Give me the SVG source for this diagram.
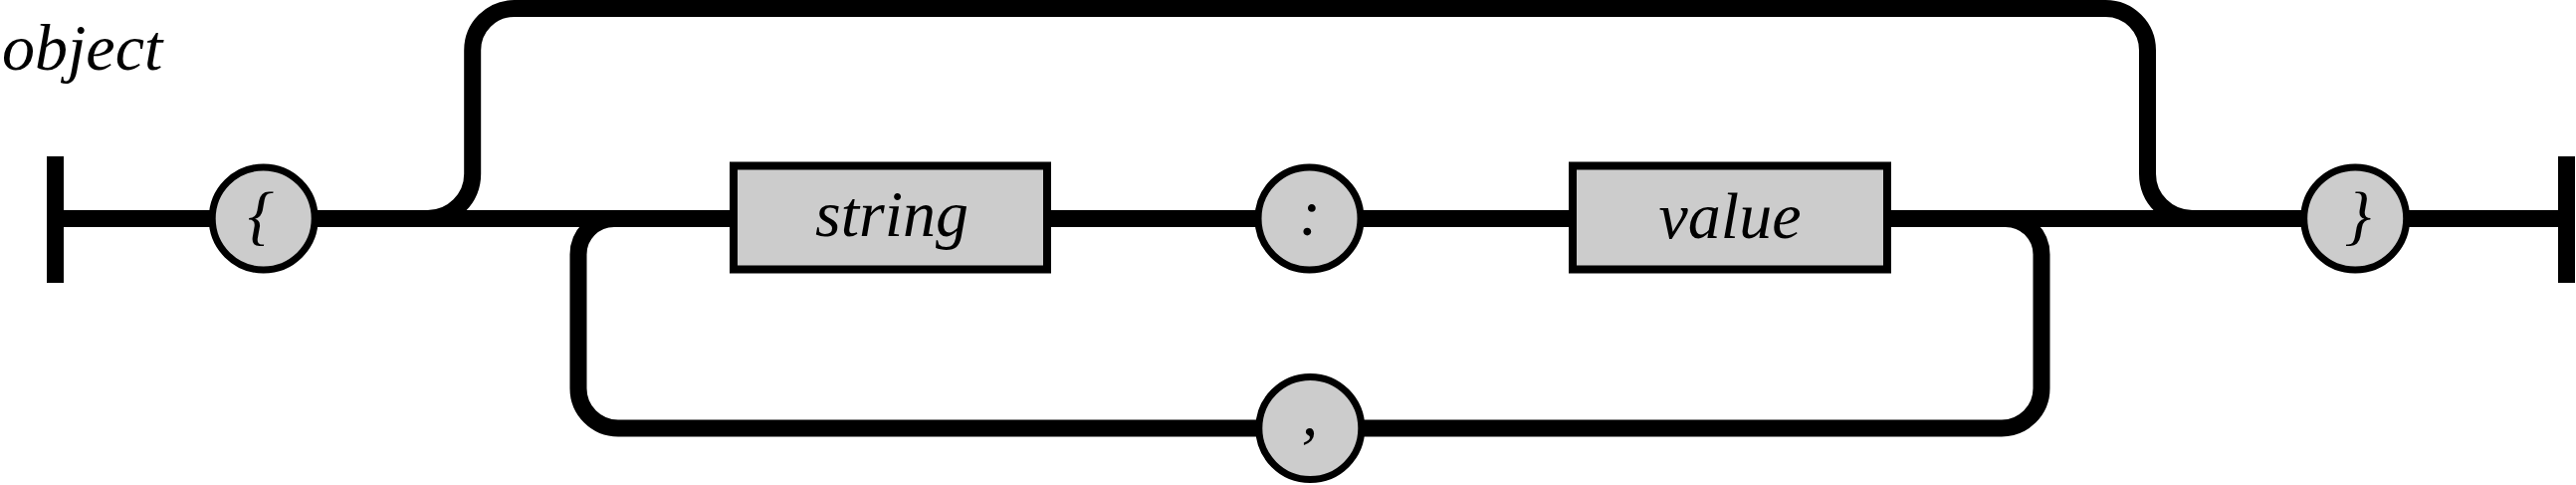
<svg xmlns="http://www.w3.org/2000/svg" width="2588" height="487" viewBox="0 0 2588 487">
<style>
.rail{fill:none;stroke:#000;stroke-width:17;stroke-linecap:butt;stroke-linejoin:miter}
.term{fill:#cccccc;stroke:#000;stroke-width:7}
.nonterm{fill:#cccccc;stroke:#000;stroke-width:8}
.lbl{font-family:"Liberation Serif","Times New Roman",serif;font-style:italic;font-size:66px;fill:#000}
</style>
<rect width="2588" height="487" fill="#fff"/>
<text class="lbl" x="2" y="70">object</text>
<g id="connectors">
<path class="rail" d="M47 219.5 H2587"/>
<path class="rail" d="M55.5 157 V284"/>
<path class="rail" d="M2578.5 157 V284"/>
<path class="rail" d="M429.7 219.5 A45 45 0 0 0 474.7 174.5 V50.5 A42 42 0 0 1 516.7 8.5 H2115.5 A42 42 0 0 1 2157.5 50.5 V174.5 A45 45 0 0 0 2202.5 219.5"/>
<path class="rail" d="M2015 219.5 A36 36 0 0 1 2051 255.5 V390 A40 40 0 0 1 2011 430 H621 A40 40 0 0 1 581 390 V255.5 A36 36 0 0 1 617 219.5"/>
</g>
<g id="node-open-brace">
<circle class="term" cx="264.7" cy="219.5" r="51.5"/>
<text class="lbl" x="262" y="238" text-anchor="middle">{</text>
</g>
<g id="node-string">
<rect class="nonterm" x="737" y="166.5" width="315" height="104"/>
<text class="lbl" x="896" y="237" text-anchor="middle">string</text>
</g>
<g id="node-colon">
<circle class="term" cx="1315.5" cy="219.5" r="51.5"/>
<text class="lbl" x="1316" y="235.5" text-anchor="middle">:</text>
</g>
<g id="node-value">
<rect class="nonterm" x="1580" y="166.5" width="316" height="104"/>
<text class="lbl" x="1738" y="239" text-anchor="middle">value</text>
</g>
<g id="node-comma">
<circle class="term" cx="1316.3" cy="430" r="51.5"/>
<text class="lbl" x="1316" y="437" text-anchor="middle">,</text>
</g>
<g id="node-close-brace">
<circle class="term" cx="2366.2" cy="219.5" r="51.5"/>
<text class="lbl" x="2369" y="238" text-anchor="middle">}</text>
</g>
</svg>
